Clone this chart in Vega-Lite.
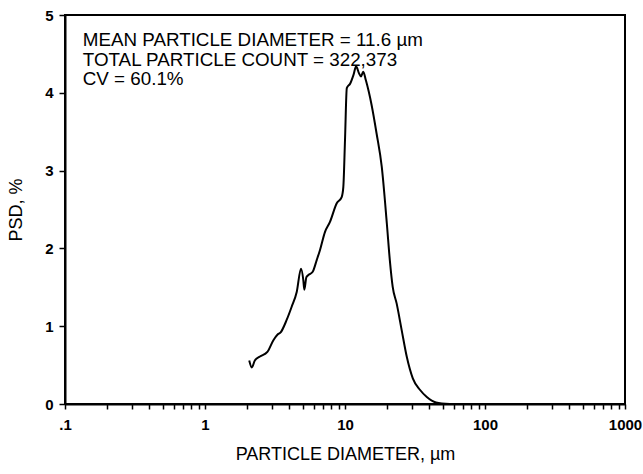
{
  "$schema": "https://vega.github.io/schema/vega-lite/v6.json",
  "width": 560,
  "height": 389,
  "autosize": {"type": "none"},
  "padding": {"left": 65, "top": 15, "right": 18, "bottom": 70},
  "background": "white",
  "config": {
    "font": "Liberation Sans",
    "view": {"stroke": "black", "strokeWidth": 2},
    "axis": {
      "grid": false,
      "domainColor": "black",
      "domainWidth": 2,
      "tickColor": "black",
      "tickWidth": 1.5,
      "labelColor": "black",
      "labelFont": "Liberation Sans",
      "labelFontWeight": "bold",
      "labelFontSize": 15,
      "titleColor": "black",
      "titleFont": "Liberation Sans",
      "titleFontWeight": "normal",
      "titleFontSize": 18
    }
  },
  "layer": [
    {
      "data": {
        "values": [
          {"d": 2.07, "psd": 0.56},
          {"d": 2.16, "psd": 0.47},
          {"d": 2.27, "psd": 0.56},
          {"d": 2.47, "psd": 0.61},
          {"d": 2.79, "psd": 0.67},
          {"d": 3.08, "psd": 0.82},
          {"d": 3.29, "psd": 0.89},
          {"d": 3.47, "psd": 0.92},
          {"d": 3.83, "psd": 1.08},
          {"d": 4.16, "psd": 1.25},
          {"d": 4.52, "psd": 1.44},
          {"d": 4.85, "psd": 1.74},
          {"d": 5.04, "psd": 1.59},
          {"d": 5.12, "psd": 1.47},
          {"d": 5.3, "psd": 1.63},
          {"d": 5.5, "psd": 1.66},
          {"d": 5.88, "psd": 1.7},
          {"d": 6.28, "psd": 1.85},
          {"d": 6.63, "psd": 1.98},
          {"d": 7.19, "psd": 2.21},
          {"d": 7.81, "psd": 2.34},
          {"d": 8.73, "psd": 2.58},
          {"d": 9.47, "psd": 2.66},
          {"d": 9.73, "psd": 2.79},
          {"d": 10.0, "psd": 3.39},
          {"d": 10.3, "psd": 4.06},
          {"d": 10.9, "psd": 4.12},
          {"d": 11.5, "psd": 4.23},
          {"d": 12.0, "psd": 4.34},
          {"d": 12.6, "psd": 4.25},
          {"d": 13.0, "psd": 4.21},
          {"d": 13.5, "psd": 4.27},
          {"d": 14.1, "psd": 4.16},
          {"d": 15.5, "psd": 3.84},
          {"d": 16.8, "psd": 3.48},
          {"d": 18.3, "psd": 3.05},
          {"d": 19.9, "psd": 2.32},
          {"d": 20.9, "psd": 1.85},
          {"d": 21.9, "psd": 1.51},
          {"d": 23.4, "psd": 1.29},
          {"d": 25.4, "psd": 0.95},
          {"d": 27.6, "psd": 0.61},
          {"d": 30.5, "psd": 0.33},
          {"d": 34.4, "psd": 0.18},
          {"d": 38.4, "psd": 0.09},
          {"d": 44.7, "psd": 0.02},
          {"d": 56.0, "psd": 0.0}
        ]
      },
      "mark": {"type": "line", "color": "black", "strokeWidth": 2, "interpolate": "monotone"},
      "encoding": {
        "x": {
          "field": "d",
          "type": "quantitative",
          "scale": {"type": "log", "domain": [0.1, 1000]},
          "axis": {
            "title": "PARTICLE DIAMETER, µm",
            "titlePadding": 13,
            "values": [0.1, 0.2, 0.3, 0.4, 0.5, 0.6, 0.7, 0.8, 0.9, 1, 2, 3, 4, 5, 6, 7, 8, 9, 10, 20, 30, 40, 50, 60, 70, 80, 90, 100, 200, 300, 400, 500, 600, 700, 800, 900, 1000],
            "labelExpr": "datum.value == 0.1 ? '.1' : (datum.value == 1 || datum.value == 10 || datum.value == 100 || datum.value == 1000) ? format(datum.value, 'd') : ''",
            "labelOverlap": false,
            "labelFlush": false,
            "tickSize": 5,
            "labelPadding": 8
          }
        },
        "y": {
          "field": "psd",
          "type": "quantitative",
          "scale": {"domain": [0, 5]},
          "axis": {
            "title": "PSD, %",
            "values": [0, 1, 2, 3, 4, 5],
            "format": "d",
            "tickSize": 6,
            "labelPadding": 6,
            "titlePadding": 19
          }
        }
      }
    },
    {
      "data": {
        "values": [
          {"label": "MEAN PARTICLE DIAMETER = 11.6 µm", "d": 0.134, "psd": 4.6},
          {"label": "TOTAL PARTICLE COUNT = 322,373", "d": 0.134, "psd": 4.345},
          {"label": "CV = 60.1%", "d": 0.134, "psd": 4.1}
        ]
      },
      "mark": {"type": "text", "align": "left", "baseline": "alphabetic", "fontSize": 18.8, "font": "Liberation Sans", "color": "black"},
      "encoding": {
        "x": {"field": "d", "type": "quantitative"},
        "y": {"field": "psd", "type": "quantitative"},
        "text": {"field": "label"}
      }
    }
  ]
}
